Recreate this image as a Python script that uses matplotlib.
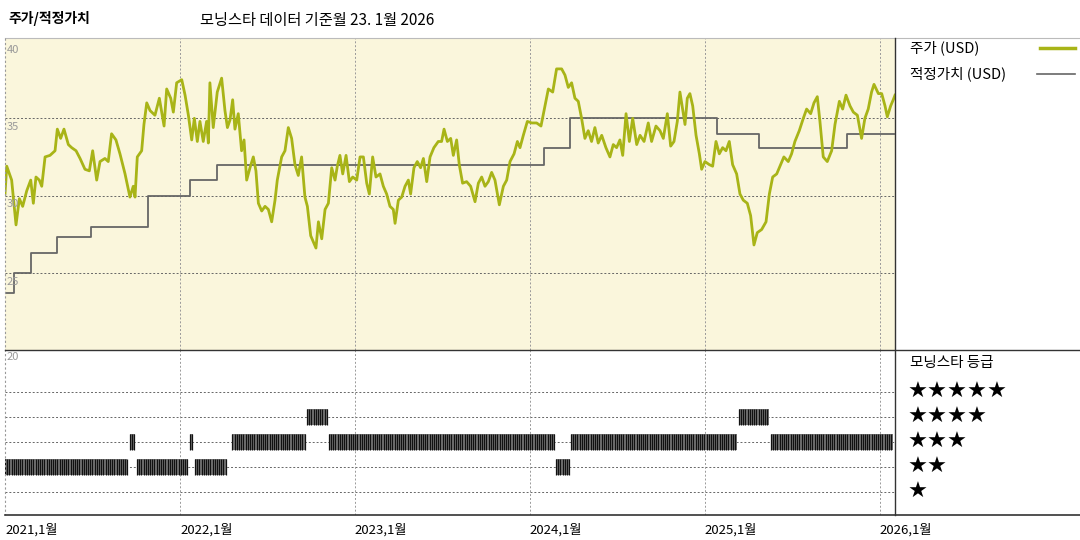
import numpy as np
import matplotlib.pyplot as plt
from matplotlib.lines import Line2D

plt.rcParams['font.family'] = ['Noto Sans CJK KR', 'DejaVu Sans']

# price (USD), dates as decimal years
price_t = [2021.000, 2021.010, 2021.038, 2021.063, 2021.082, 2021.101, 2021.124, 2021.147, 2021.162, 2021.177,
           2021.196, 2021.210, 2021.229, 2021.257, 2021.286, 2021.299, 2021.318, 2021.337, 2021.362, 2021.381,
           2021.406, 2021.429, 2021.457, 2021.482, 2021.501, 2021.524, 2021.543, 2021.571, 2021.590, 2021.609,
           2021.634, 2021.657, 2021.686, 2021.714, 2021.733, 2021.743, 2021.756, 2021.781, 2021.794, 2021.810,
           2021.829, 2021.857, 2021.882, 2021.909, 2021.924, 2021.947, 2021.962, 2021.981, 2022.010, 2022.029,
           2022.048, 2022.067, 2022.082, 2022.099, 2022.114, 2022.133, 2022.152, 2022.162, 2022.171, 2022.190,
           2022.213, 2022.238, 2022.257, 2022.271, 2022.286, 2022.301, 2022.314, 2022.333, 2022.352, 2022.366,
           2022.381, 2022.400, 2022.419, 2022.434, 2022.448, 2022.467, 2022.486, 2022.505, 2022.524, 2022.543,
           2022.556, 2022.581, 2022.600, 2022.619, 2022.638, 2022.657, 2022.676, 2022.695, 2022.714, 2022.728,
           2022.747, 2022.762, 2022.777, 2022.791, 2022.810, 2022.829, 2022.848, 2022.867, 2022.886, 2022.899,
           2022.914, 2022.930, 2022.949, 2022.968, 2022.987, 2023.010, 2023.029, 2023.048, 2023.067, 2023.082,
           2023.101, 2023.120, 2023.143, 2023.162, 2023.181, 2023.200, 2023.219, 2023.229, 2023.248, 2023.267,
           2023.286, 2023.305, 2023.318, 2023.337, 2023.356, 2023.375, 2023.391, 2023.410, 2023.429, 2023.451,
           2023.476, 2023.495, 2023.509, 2023.528, 2023.547, 2023.562, 2023.581, 2023.596, 2023.615, 2023.638,
           2023.661, 2023.686, 2023.705, 2023.724, 2023.743, 2023.762, 2023.781, 2023.800, 2023.825, 2023.848,
           2023.867, 2023.886, 2023.909, 2023.928, 2023.943, 2023.962, 2023.985, 2024.010, 2024.038, 2024.063,
           2024.086, 2024.105, 2024.130, 2024.152, 2024.181, 2024.200, 2024.219, 2024.238, 2024.257, 2024.276,
           2024.295, 2024.314, 2024.333, 2024.352, 2024.371, 2024.390, 2024.410, 2024.434, 2024.457, 2024.476,
           2024.495, 2024.514, 2024.530, 2024.549, 2024.568, 2024.587, 2024.610, 2024.629, 2024.652, 2024.676,
           2024.695, 2024.720, 2024.743, 2024.762, 2024.785, 2024.804, 2024.823, 2024.842, 2024.857, 2024.872,
           2024.886, 2024.899, 2024.914, 2024.930, 2024.949, 2024.968, 2024.981, 2025.000, 2025.025, 2025.044,
           2025.063, 2025.082, 2025.101, 2025.120, 2025.139, 2025.158, 2025.181, 2025.200, 2025.219, 2025.242,
           2025.261, 2025.280, 2025.299, 2025.324, 2025.349, 2025.368, 2025.387, 2025.410, 2025.432, 2025.451,
           2025.476, 2025.495, 2025.514, 2025.539, 2025.562, 2025.581, 2025.604, 2025.623, 2025.642, 2025.657,
           2025.676, 2025.699, 2025.724, 2025.743, 2025.768, 2025.787, 2025.806, 2025.829, 2025.848, 2025.871,
           2025.895, 2025.914, 2025.933, 2025.952, 2025.966, 2025.991, 2026.010, 2026.029, 2026.042, 2026.061,
           2026.076, 2026.086]
price_v = [30.1, 31.9, 31.0, 28.1, 29.8, 29.3, 30.3, 31.0, 29.5, 31.2,
           31.0, 30.6, 32.5, 32.6, 32.9, 34.3, 33.7, 34.3, 33.3, 33.1,
           32.9, 32.4, 31.7, 31.6, 32.9, 31.0, 32.2, 32.4, 32.2, 34.0,
           33.6, 32.7, 31.4, 29.9, 30.6, 29.9, 32.5, 32.9, 34.6, 36.0,
           35.5, 35.2, 36.3, 34.5, 36.9, 36.3, 35.4, 37.3, 37.5, 36.5,
           35.2, 33.6, 35.0, 33.5, 34.8, 33.5, 34.8, 33.4, 37.3, 34.4,
           36.7, 37.6, 35.5, 34.4, 34.9, 36.2, 34.3, 35.3, 32.9, 33.6,
           31.0, 31.8, 32.5, 31.6, 29.5, 29.0, 29.3, 29.1, 28.3, 29.7,
           31.0, 32.5, 32.9, 34.4, 33.7, 32.0, 31.3, 32.5, 29.9, 29.3,
           27.4, 27.0, 26.6, 28.3, 27.2, 29.1, 29.5, 31.8, 31.0, 31.9,
           32.6, 31.4, 32.6, 30.9, 31.2, 31.0, 32.5, 32.5, 30.8, 30.1,
           32.5, 31.2, 31.4, 30.6, 30.1, 29.3, 29.1, 28.2, 29.7, 29.9,
           30.6, 31.0, 30.1, 31.8, 32.2, 31.8, 32.4, 30.9, 32.5, 33.1,
           33.5, 33.5, 34.3, 33.5, 33.7, 32.6, 33.6, 32.0, 30.8, 30.9,
           30.6, 29.6, 30.8, 31.2, 30.6, 30.9, 31.5, 31.0, 29.4, 30.6,
           31.0, 32.2, 32.7, 33.5, 33.1, 33.9, 34.8, 34.7, 34.7, 34.5,
           35.8, 36.9, 36.7, 38.2, 38.2, 37.8, 37.0, 37.3, 36.3, 36.1,
           35.0, 33.7, 34.2, 33.5, 34.4, 33.4, 33.9, 33.1, 32.5, 33.3,
           33.1, 33.6, 32.6, 35.3, 33.5, 35.0, 33.3, 33.9, 33.5, 34.7,
           33.5, 34.5, 34.2, 33.7, 35.3, 33.2, 33.5, 34.8, 36.7, 35.6,
           34.6, 36.3, 36.6, 35.8, 33.9, 32.7, 31.7, 32.2, 32.0, 31.9,
           33.5, 32.7, 33.1, 32.9, 33.5, 32.0, 31.4, 30.1, 29.7, 29.5,
           28.7, 26.8, 27.6, 27.8, 28.3, 30.1, 31.2, 31.4, 32.0, 32.5,
           32.2, 32.7, 33.5, 34.2, 35.0, 35.6, 35.3, 36.0, 36.4, 34.8,
           32.5, 32.2, 32.9, 34.6, 36.1, 35.6, 36.5, 35.8, 35.4, 35.2,
           33.7, 35.0, 35.6, 36.7, 37.2, 36.6, 36.6, 35.8, 35.1, 35.8,
           36.2, 36.5]

# fair value (USD) step changes
fv_t = [2021.000, 2021.054, 2021.149, 2021.297, 2021.491, 2021.815, 2022.057, 2022.210,
        2024.080, 2024.230, 2025.070, 2025.310, 2025.810, 2026.080]
fv_v = [23.7, 25.0, 26.3, 27.3, 27.95, 30.0, 31.0, 32.0,
        33.1, 35.05, 34.0, 33.1, 34.0, 34.0]

# morningstar rating periods (start, end, stars)
rating_start = [2021.000, 2021.714, 2021.754, 2022.057, 2022.086, 2022.300, 2022.726, 2022.851,
                2024.149, 2024.234, 2025.194, 2025.377]
rating_end = [2021.700, 2021.743, 2022.046, 2022.074, 2022.269, 2022.720, 2022.846, 2024.143,
              2024.229, 2025.183, 2025.366, 2026.074]
rating_stars = [2, 3, 2, 3, 2, 3, 4, 3, 2, 3, 4, 3]
year_labels = ['2021,1월', '2022,1월', '2023,1월', '2024,1월', '2025,1월', '2026,1월']
years = [2021, 2022, 2023, 2024, 2025, 2026]

W, H = 1080, 540
fig = plt.figure(figsize=(10.8, 5.4), dpi=100)
xmin, xmax = 2021.0, 2026.086

ax = fig.add_axes([5 / W, (H - 350) / H, 890 / W, 312 / H])
ax.set_facecolor('#faf6dc')
ax.set_xlim(xmin, xmax)
ax.set_ylim(20, 40.2)
for v in [25, 30, 35]:
    ax.axhline(v, color='#666666', lw=0.7, ls=(0, (2, 2)))
for y in years[1:]:
    ax.axvline(y, color='#999999', lw=0.7, ls=(0, (2, 2)))
ax.step(fv_t, fv_v, where='post', color='#666666', lw=1.3)
ax.plot(price_t, price_v, color='#a8b417', lw=2.0)
for v in [40, 35, 30, 25]:
    ax.text(xmin + 0.01, v - 0.25, str(v), va='top', ha='left', fontsize=8, color='#999999')
ax.set_xticks([])
ax.set_yticks([])
for s in ax.spines.values():
    s.set_visible(False)

ax2 = fig.add_axes([5 / W, 25 / H, 890 / W, 165 / H])
ax2.set_xlim(xmin, xmax)
ax2.set_ylim(0.08, 6.68)
for r in [1, 2, 3, 4, 5]:
    ax2.axhline(r, color='#666666', lw=0.7, ls=(0, (2, 2)), zorder=0)
for y in years[1:]:
    ax2.axvline(y, color='#999999', lw=0.7, ls=(0, (2, 2)), zorder=0)
for s0, s1, r in zip(rating_start, rating_end, rating_stars):
    ax2.fill_between([s0, s1], r - 0.32, r + 0.32, color='#777777', lw=0, zorder=1)
    ticks = np.arange(s0, s1 + 1e-6, 1 / 80)
    ax2.vlines(ticks, r - 0.32, r + 0.32, color='#111111', lw=0.9, zorder=2)
ax2.text(xmin + 0.01, 6.6, '20', va='top', ha='left', fontsize=8, color='#999999')
ax2.set_xticks([])
ax2.set_yticks([])
for s in ax2.spines.values():
    s.set_visible(False)

for y, lab in zip(years, year_labels):
    ax2.text(y, -0.05, lab, transform=ax2.get_xaxis_transform(), va='top', ha='left', fontsize=9.5)

# frame lines
def fig_line(x0, y0, x1, y1, **kw):
    fig.add_artist(Line2D([x0 / W, x1 / W], [1 - y0 / H, 1 - y1 / H], **kw))

fig_line(5, 38, W, 38, color='#bbbbbb', lw=0.8)
fig_line(5, 38, 5, 515, color='#999999', lw=0.8, ls=(0, (2, 2)))
fig_line(895, 38, 895, 515, color='#333333', lw=1)
fig_line(5, 350, W, 350, color='#333333', lw=1)
fig_line(5, 515, W, 515, color='#333333', lw=1.2)

fig.text(8 / W, 1 - 18 / H, '주가/적정가치', fontsize=10, fontweight='bold', va='center')
fig.text(200 / W, 1 - 21 / H, '모닝스타 데이터 기준월 23. 1월 2026', fontsize=11, va='center')
fig.text(910 / W, 1 - 48 / H, '주가 (USD)', fontsize=10.5, va='center')
fig_line(1040, 48, 1075, 48, color='#a8b417', lw=2.5)
fig.text(910 / W, 1 - 74 / H, '적정가치 (USD)', fontsize=10.5, va='center')
fig_line(1037, 74, 1075, 74, color='#666666', lw=1.2)
fig.text(910 / W, 1 - 363 / H, '모닝스타 등급', fontsize=10.5, va='center')
for r in [5, 4, 3, 2, 1]:
    fig.text(908 / W, 1 - (517 - 25 * r) / H, '★' * r, fontsize=16, va='center',
             family=['DejaVu Sans'])

fig.savefig('out.png', dpi=100)
